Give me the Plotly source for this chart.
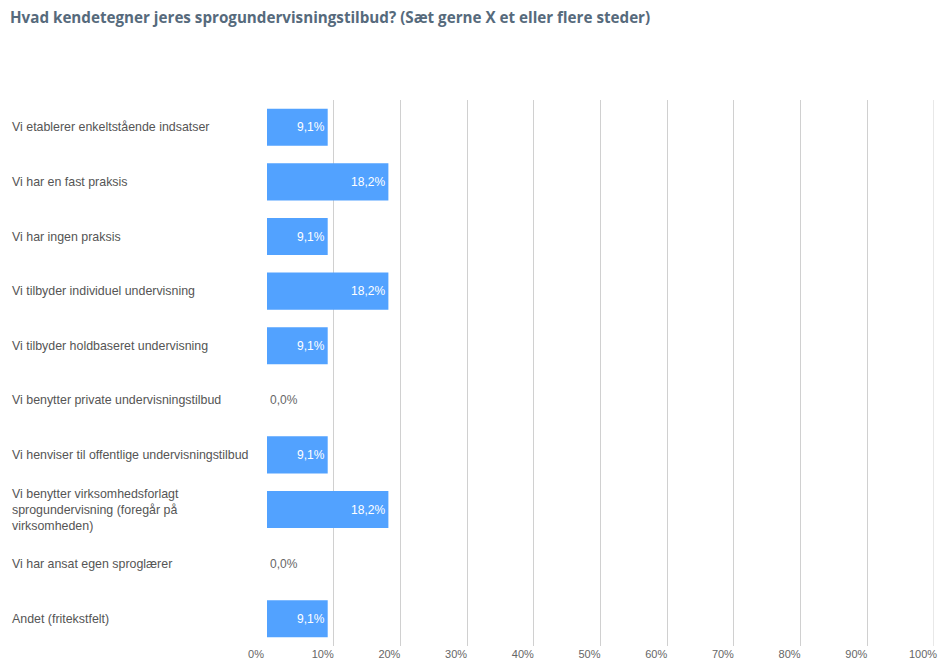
import plotly.graph_objects as go

title = "<b>Hvad kendetegner jeres sprogundervisningstilbud? (Sæt gerne X et eller flere steder)</b>"
categories = [
    "Vi etablerer enkeltstående indsatser",
    "Vi har en fast praksis",
    "Vi har ingen praksis",
    "Vi tilbyder individuel undervisning",
    "Vi tilbyder holdbaseret undervisning",
    "Vi benytter private undervisningstilbud",
    "Vi henviser til offentlige undervisningstilbud",
    "Vi benytter virksomhedsforlagt<br>sprogundervisning (foregår på<br>virksomheden)",
    "Vi har ansat egen sproglærer",
    "Andet (fritekstfelt)",
]
values = [9.1, 18.2, 9.1, 18.2, 9.1, 0.0, 9.1, 18.2, 0.0, 9.1]
tick_vals = [0, 10, 20, 30, 40, 50, 60, 70, 80, 90, 100]
tick_text = [f"{v}%" for v in tick_vals]

labels = [f"{v:.1f}%".replace(".", ",") for v in values]
positions = ["inside" if v > 0 else "outside" for v in values]
ids = list(range(len(categories)))

FONT = "Liberation Sans, Arial"

fig = go.Figure()
fig.add_trace(go.Bar(
    x=values, y=ids, orientation="h",
    marker=dict(color="#52A2FF", line=dict(width=0)),
    text=labels, textposition=positions, insidetextanchor="end",
    insidetextfont=dict(color="white", size=12, family=FONT),
    outsidetextfont=dict(color="#666666", size=12, family=FONT),
    cliponaxis=False, width=0.68, hoverinfo="skip",
))

for i, c in enumerate(categories):
    fig.add_annotation(x=0, xref="paper", xanchor="left", xshift=-257,
                       y=i, yref="y", text=c, showarrow=False, align="left",
                       font=dict(size=12.4, color="#555555", family=FONT))

fig.update_layout(
    width=942, height=670,
    paper_bgcolor="white", plot_bgcolor="white",
    margin=dict(l=267, r=5, t=100, b=24),
    showlegend=False,
    title=dict(text=title, x=0.0106, xanchor="left", y=0.974, yanchor="middle",
               font=dict(size=15.2, color="#566a7c", family="Open Sans, Liberation Sans")),
    xaxis=dict(range=[0, 100], tickvals=tick_vals, ticktext=tick_text,
               showgrid=True, gridcolor="#d0d0d0", gridwidth=1, zeroline=False,
               tickfont=dict(size=11, color="#666666", family=FONT),
               ticklabelshift=-11,
               showline=False, fixedrange=True),
    yaxis=dict(range=[9.5, -0.5], showticklabels=False, showgrid=False, zeroline=False,
               fixedrange=True),
)
fig.add_shape(type="line", xref="x", yref="paper", x0=100, x1=100, y0=0, y1=1,
              line=dict(color="#d0d0d0", width=1))

fig.write_html("out.html", config={"displayModeBar": False},
               post_script="document.body.style.margin='0';document.body.style.overflow='hidden';")
